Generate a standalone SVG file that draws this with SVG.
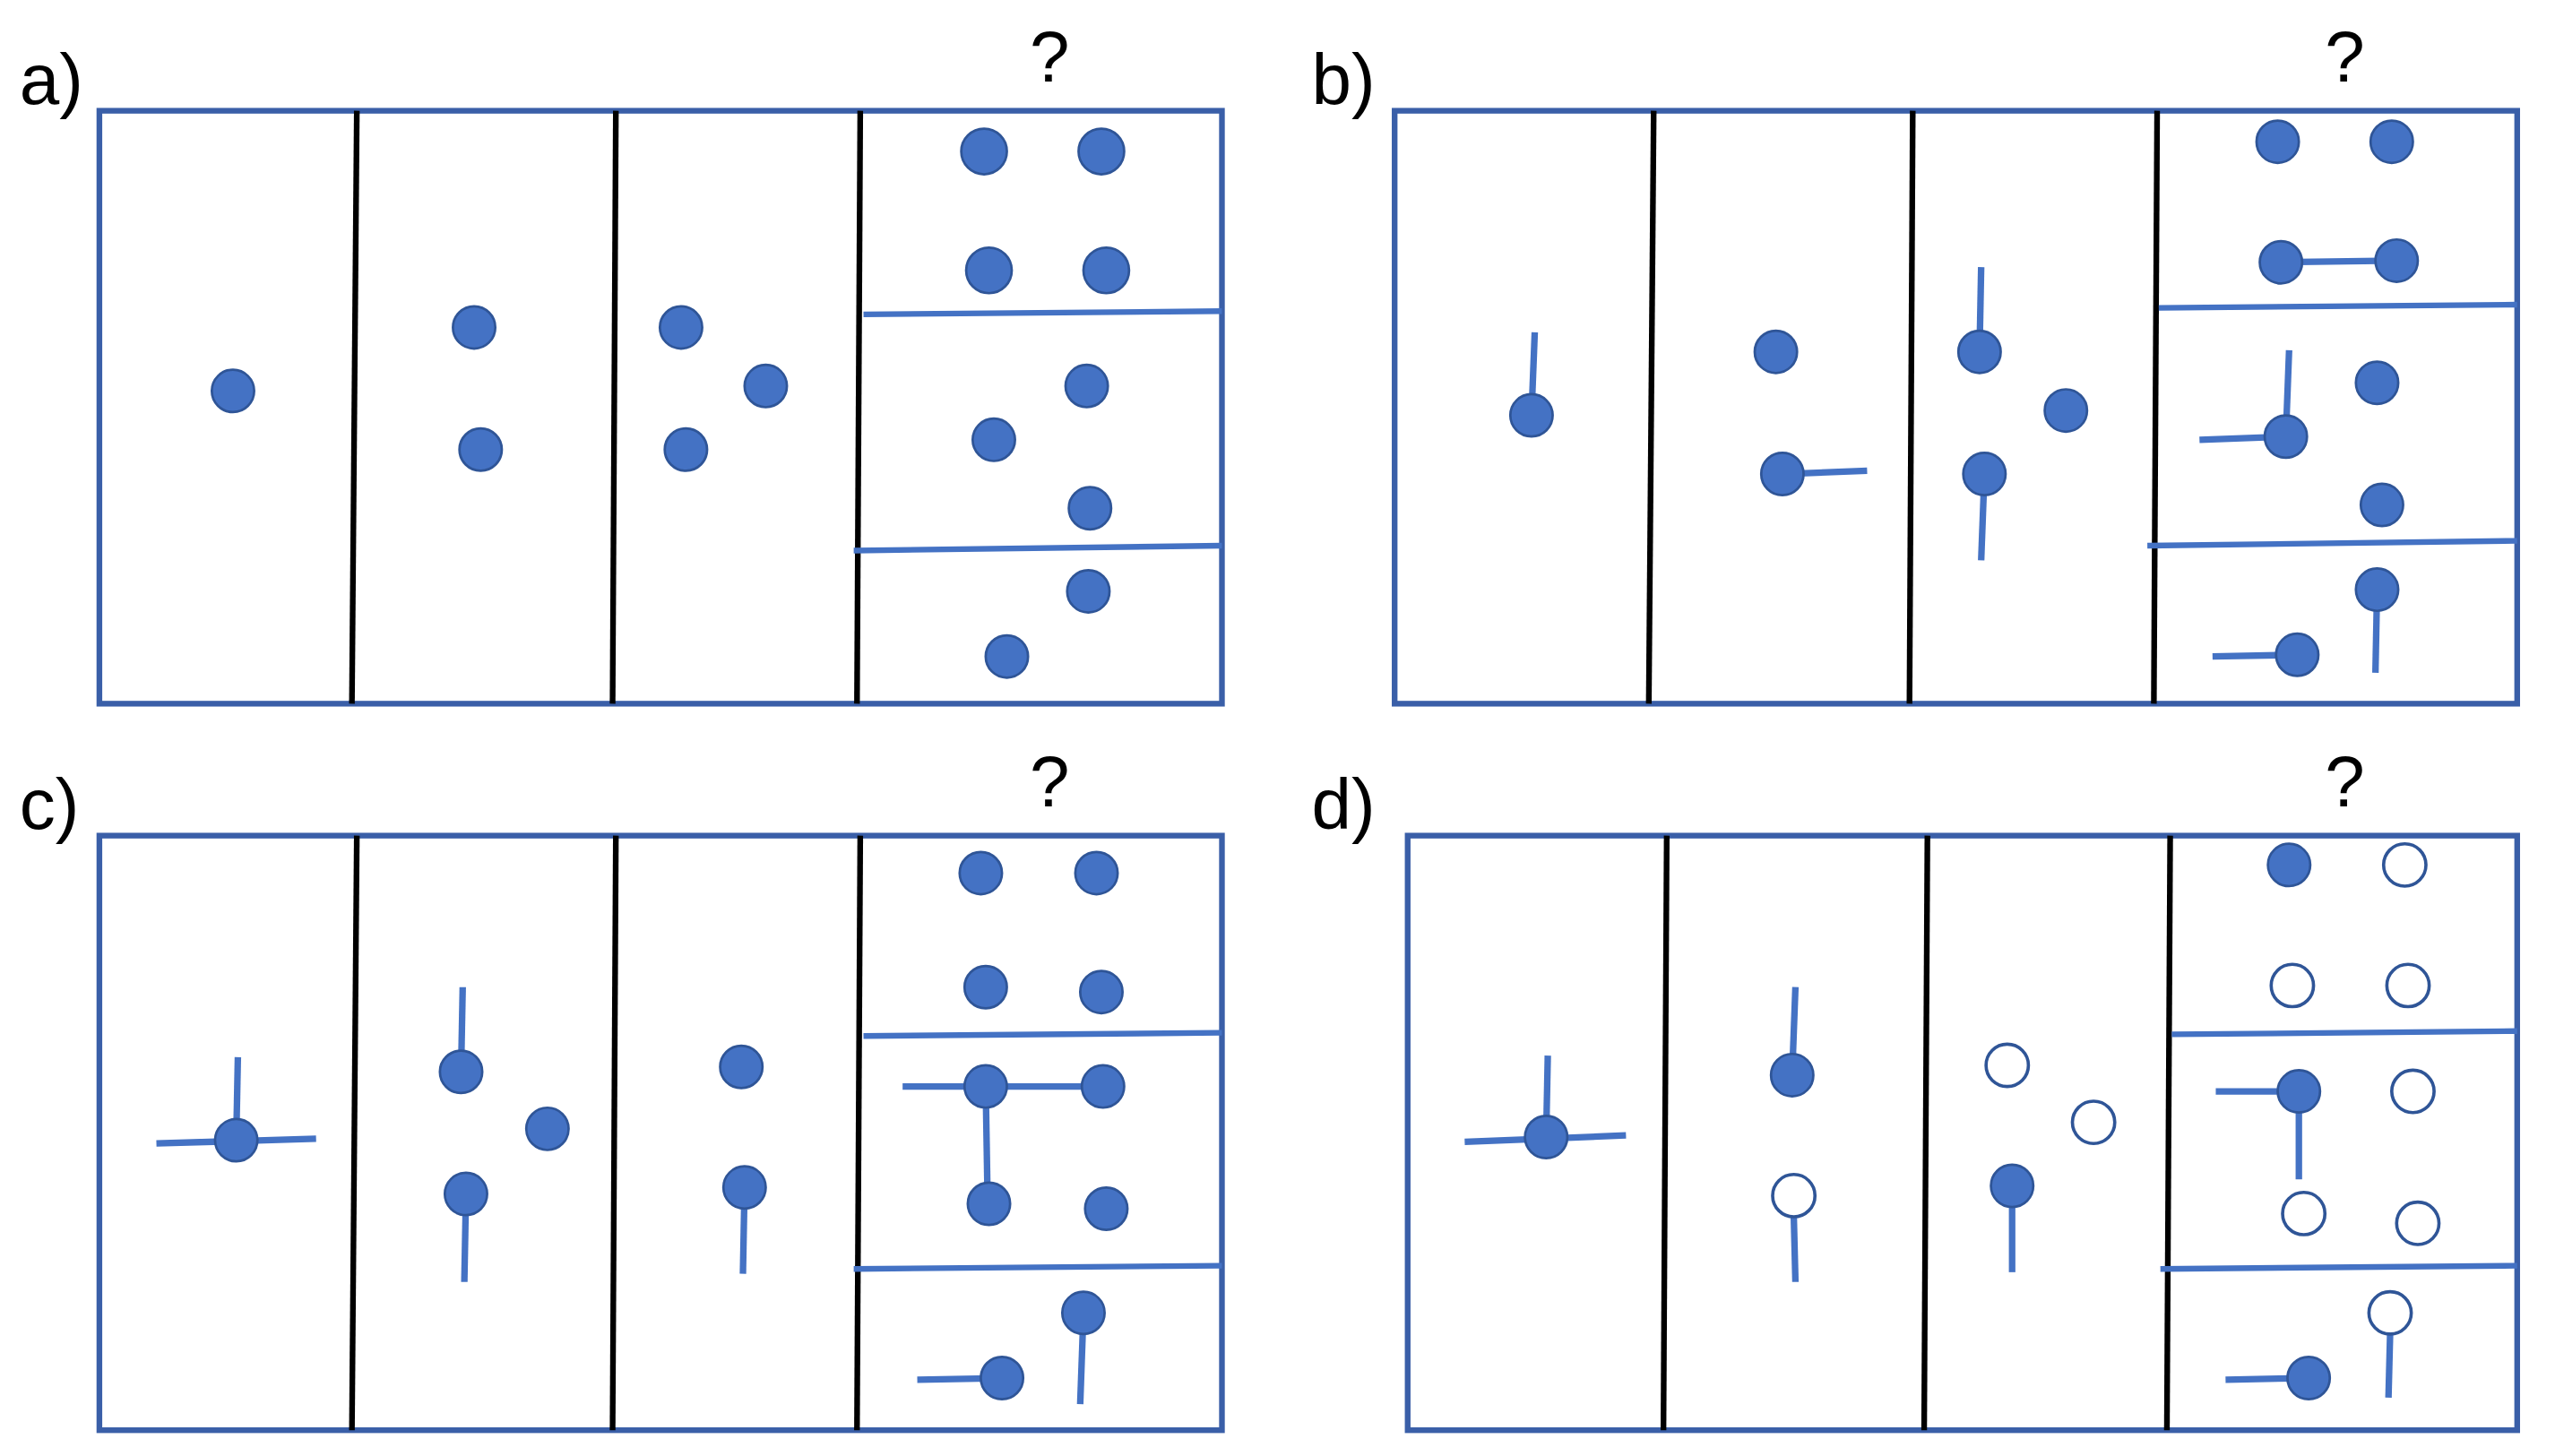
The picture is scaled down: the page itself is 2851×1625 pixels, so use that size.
<svg xmlns="http://www.w3.org/2000/svg" width="2851" height="1625" viewBox="0 0 2851 1625">
<style>
.fr{fill:none;stroke:#3A5FA8;stroke-width:3.5}
.dv{stroke:#000;stroke-width:3.5}
.hl{stroke:#4472C4;stroke-width:3.5}
.st{stroke:#4472C4;stroke-width:4}
.f{fill:#4472C4;stroke:#2F5597;stroke-width:1.5}
.o{fill:#fff;stroke:#2F5597;stroke-width:2}
.t{font-family:"Liberation Sans",Arial,sans-serif;font-size:44px;fill:#000}
</style>
<rect width="2851" height="1625" fill="#fff"/>
<g transform="scale(1.818)">
<g id="panel-a">
<text class="t" x="12" y="64">a)</text><text class="t" x="632" y="50">?</text>
<rect class="fr" x="61" y="68" width="689" height="364"/>
<line class="dv" x1="219" y1="68" x2="216" y2="432"/><line class="dv" x1="378" y1="68" x2="376" y2="432"/><line class="dv" x1="528" y1="68" x2="526" y2="432"/>
<line class="hl" x1="530" y1="193" x2="750" y2="191"/><line class="hl" x1="524" y1="338" x2="750" y2="335"/>
<circle class="f" cx="143" cy="240" r="13"/><circle class="f" cx="291" cy="201" r="13"/><circle class="f" cx="295" cy="276" r="13"/>
<circle class="f" cx="418" cy="201" r="13"/><circle class="f" cx="470" cy="237" r="13"/><circle class="f" cx="421" cy="276" r="13"/>
<circle class="f" cx="604" cy="93" r="14"/><circle class="f" cx="676" cy="93" r="14"/><circle class="f" cx="607" cy="166" r="14"/><circle class="f" cx="679" cy="166" r="14"/>
<circle class="f" cx="667" cy="237" r="13"/><circle class="f" cx="610" cy="270" r="13"/><circle class="f" cx="669" cy="312" r="13"/><circle class="f" cx="668" cy="363" r="13"/><circle class="f" cx="618" cy="403" r="13"/>
</g>
<g id="panel-b">
<text class="t" x="805" y="64">b)</text><text class="t" x="1427" y="50">?</text>
<rect class="fr" x="856" y="68" width="689" height="364"/>
<line class="dv" x1="1015" y1="68" x2="1012" y2="432"/><line class="dv" x1="1174" y1="68" x2="1172" y2="432"/><line class="dv" x1="1324" y1="68" x2="1322" y2="432"/>
<line class="hl" x1="1325" y1="189" x2="1545" y2="187"/><line class="hl" x1="1318" y1="335" x2="1545" y2="332"/>
<g class="st"><line x1="940" y1="255" x2="942" y2="204"/><line x1="1094" y1="291" x2="1146" y2="289"/><line x1="1215" y1="216" x2="1216" y2="164"/><line x1="1218" y1="291" x2="1216" y2="344"/>
<line x1="1400" y1="161" x2="1471" y2="160"/><line x1="1403" y1="268" x2="1405" y2="215"/><line x1="1403" y1="268" x2="1350" y2="270"/><line x1="1459" y1="362" x2="1458" y2="413"/><line x1="1410" y1="402" x2="1358" y2="403"/></g>
<circle class="f" cx="940" cy="255" r="13"/><circle class="f" cx="1090" cy="216" r="13"/><circle class="f" cx="1094" cy="291" r="13"/>
<circle class="f" cx="1215" cy="216" r="13"/><circle class="f" cx="1268" cy="252" r="13"/><circle class="f" cx="1218" cy="291" r="13"/>
<circle class="f" cx="1398" cy="87" r="13"/><circle class="f" cx="1468" cy="87" r="13"/><circle class="f" cx="1400" cy="161" r="13"/><circle class="f" cx="1471" cy="160" r="13"/>
<circle class="f" cx="1459" cy="235" r="13"/><circle class="f" cx="1403" cy="268" r="13"/><circle class="f" cx="1462" cy="310" r="13"/><circle class="f" cx="1459" cy="362" r="13"/><circle class="f" cx="1410" cy="402" r="13"/>
</g>
<g id="panel-c">
<text class="t" x="12" y="509">c)</text><text class="t" x="632" y="495">?</text>
<rect class="fr" x="61" y="513" width="689" height="365"/>
<line class="dv" x1="219" y1="513" x2="216" y2="878"/><line class="dv" x1="378" y1="513" x2="376" y2="878"/><line class="dv" x1="528" y1="513" x2="526" y2="878"/>
<line class="hl" x1="530" y1="636" x2="750" y2="634"/><line class="hl" x1="524" y1="779" x2="750" y2="777"/>
<g class="st"><line x1="145" y1="700" x2="146" y2="649"/><line x1="96" y1="702" x2="194" y2="699"/><line x1="283" y1="658" x2="284" y2="606"/><line x1="286" y1="733" x2="285" y2="787"/><line x1="457" y1="729" x2="456" y2="782"/>
<line x1="554" y1="667" x2="677" y2="667"/><line x1="605" y1="667" x2="606" y2="727"/><line x1="665" y1="806" x2="663" y2="862"/><line x1="615" y1="846" x2="563" y2="847"/></g>
<circle class="f" cx="145" cy="700" r="13"/><circle class="f" cx="283" cy="658" r="13"/><circle class="f" cx="336" cy="693" r="13"/><circle class="f" cx="286" cy="733" r="13"/>
<circle class="f" cx="455" cy="655" r="13"/><circle class="f" cx="457" cy="729" r="13"/>
<circle class="f" cx="602" cy="536" r="13"/><circle class="f" cx="673" cy="536" r="13"/><circle class="f" cx="605" cy="606" r="13"/><circle class="f" cx="676" cy="609" r="13"/>
<circle class="f" cx="605" cy="667" r="13"/><circle class="f" cx="677" cy="667" r="13"/><circle class="f" cx="607" cy="739" r="13"/><circle class="f" cx="679" cy="742" r="13"/><circle class="f" cx="665" cy="806" r="13"/><circle class="f" cx="615" cy="846" r="13"/>
</g>
<g id="panel-d">
<text class="t" x="805" y="509">d)</text><text class="t" x="1427" y="495">?</text>
<rect class="fr" x="864" y="513" width="681" height="365"/>
<line class="dv" x1="1023" y1="513" x2="1021" y2="878"/><line class="dv" x1="1183" y1="513" x2="1181" y2="878"/><line class="dv" x1="1332" y1="513" x2="1330" y2="878"/>
<line class="hl" x1="1333" y1="635" x2="1545" y2="633"/><line class="hl" x1="1326" y1="779" x2="1545" y2="777"/>
<g class="st"><line x1="949" y1="698" x2="950" y2="648"/><line x1="899" y1="701" x2="998" y2="697"/><line x1="1100" y1="660" x2="1102" y2="606"/><line x1="1101" y1="747" x2="1102" y2="787"/><line x1="1235" y1="728" x2="1235" y2="781"/>
<line x1="1411" y1="670" x2="1360" y2="670"/><line x1="1411" y1="670" x2="1411" y2="724"/><line x1="1467" y1="819" x2="1466" y2="858"/><line x1="1417" y1="846" x2="1366" y2="847"/></g>
<circle class="f" cx="949" cy="698" r="13"/><circle class="f" cx="1100" cy="660" r="13"/><circle class="o" cx="1101" cy="734" r="13"/>
<circle class="o" cx="1232" cy="654" r="13"/><circle class="o" cx="1285" cy="689" r="13"/><circle class="f" cx="1235" cy="728" r="13"/>
<circle class="f" cx="1405" cy="531" r="13"/><circle class="o" cx="1476" cy="531" r="13"/><circle class="o" cx="1407" cy="605" r="13"/><circle class="o" cx="1478" cy="605" r="13"/>
<circle class="f" cx="1411" cy="670" r="13"/><circle class="o" cx="1481" cy="670" r="13"/><circle class="o" cx="1414" cy="745" r="13"/><circle class="o" cx="1484" cy="751" r="13"/><circle class="o" cx="1467" cy="806" r="13"/><circle class="f" cx="1417" cy="846" r="13"/>
</g>
</g>
</svg>
